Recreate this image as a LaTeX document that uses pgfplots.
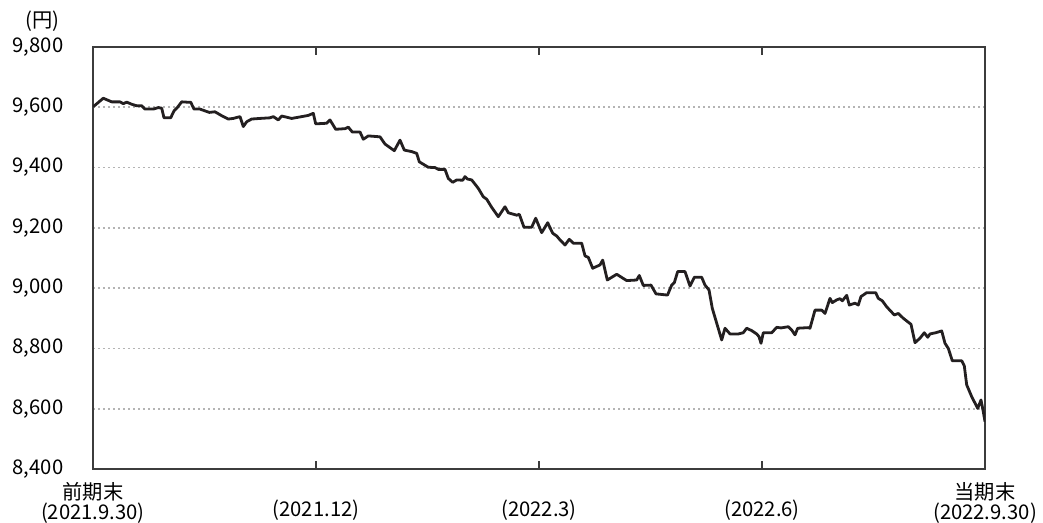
\documentclass[border=0pt]{standalone}
\usepackage{fontspec}
\setmainfont{Noto Sans CJK JP}
\usepackage{pgfplots}
\pgfplotsset{compat=1.18}
\definecolor{lineblk}{RGB}{35,31,32}
\definecolor{axgray}{RGB}{60,60,60}
\definecolor{gridgray}{RGB}{180,180,180}
\pgfplotstableread{
x y
93.3 9602
103.3 9630
111.7 9618
120 9618
123.3 9612
126.7 9617
131.7 9610
136.7 9605
141.7 9605
145 9594
153.3 9594
158.3 9599
161.7 9597
164 9565
170.7 9565
174 9588
177.3 9599
181.7 9618
186.7 9617
190.7 9617
194 9594
200 9594
205 9588
209.3 9583
215 9585
221.7 9572
228.3 9561
233.3 9563
240 9569
243.3 9536
246.7 9552
251.7 9561
260 9563
270 9565
273.3 9569
278.3 9558
281.7 9571
291.7 9563
301.7 9569
308.3 9573
313.3 9580
315.7 9545
326.7 9547
330 9558
335.7 9527
345 9529
348.3 9534
352.3 9518
360 9518
363.3 9494
368.3 9505
380 9502
385 9478
394.3 9456
400 9491
404.3 9458
411.7 9453
416.7 9447
419.3 9419
428.3 9401
435 9400
438.3 9394
445 9394
448.3 9364
452.7 9351
456.7 9359
462.7 9358
465 9370
467.3 9362
471.7 9359
478.3 9331
483.3 9303
486.7 9295
491.7 9268
498.3 9237
505 9270
508.3 9250
516.7 9242
519.3 9245
524 9202
531.7 9202
535.7 9232
541.7 9184
547.7 9217
552.7 9182
556.7 9173
560 9160
565 9143
569.3 9162
573.3 9149
581.7 9149
585 9107
588.3 9102
592.7 9066
600 9077
602.7 9093
607.3 9027
616.7 9046
626.7 9025
636.7 9027
639.3 9042
643.3 9009
651 9010
656 8981
667.5 8977
671.7 9010
674.3 9018
677.7 9055
685 9055
690 9007
694.3 9036
701.7 9036
705 9010
709 8994
712.3 8933
721.7 8828
725 8867
730 8848
738.3 8848
743.3 8852
746.7 8867
751.7 8859
756.7 8848
759 8839
761 8817
763.3 8852
771.7 8852
776.7 8870
781 8868
788.3 8872
791.7 8861
795 8845
797.7 8867
808.3 8869
810 8867
815 8927
821.7 8927
825 8916
830 8966
832.3 8952
836.7 8961
840 8965
842.3 8958
846.7 8976
849.3 8944
855 8950
858.3 8944
861 8972
866.7 8985
875.7 8985
878.3 8966
882.3 8958
886.7 8938
894.3 8911
898.3 8916
903.3 8900
911 8880
915 8819
920 8834
924.3 8852
927.7 8837
930 8848
935.7 8852
941.7 8858
945 8817
948.3 8800
952.3 8759
961.7 8759
964.3 8742
966.7 8679
971.7 8640
977.7 8601
981 8629
983.3 8590
985 8557
}\navdata
\begin{document}
\fontsize{15.2}{14.9}\selectfont
\lineskiplimit=-20pt
\begin{tikzpicture}
\begin{axis}[
  scale only axis, width=669pt, height=316.5pt,
  xmin=93, xmax=985, ymin=8400, ymax=9800,
  axis line style={draw=axgray, line width=0.9pt},
  xtick={93,316,539,762,985},
  xticklabels={{\strut 前期末\\(2021.9.30)},{\strut\\(2021.12)},{\strut\\(2022.3)},{\strut\\(2022.6)},{\strut 当期末\\(2022.9.30)}},
  xticklabel style={align=center, yshift=-5pt},
  ytick={8400,8600,...,9800},
  yticklabel style={xshift=-17pt},
  /pgf/number format/assume math mode=true,
  /pgf/number format/1000 sep={,},
  major tick length=6pt,
  tick align=inside,
  ytick style={draw=none},
  xtick style={draw=axgray, line width=0.9pt},
  ymajorgrids,
  grid style={gridgray, line width=1.3pt, dash pattern=on 1.3pt off 2.45pt},
]
\addplot[lineblk, line width=2.1pt, line join=round, mark=none] table[x=x,y=y] {\navdata};
\coordinate (bl) at (rel axis cs:0,0);
\coordinate (tr) at (rel axis cs:1,1);
\end{axis}
\node at ([xshift=-37.9pt,yshift=335.5pt]bl) {(円)};
\pgfresetboundingbox
\useasboundingbox ([xshift=-69.75pt,yshift=-40.5pt]bl) rectangle ([xshift=43.5pt,yshift=35.25pt]tr);
\end{tikzpicture}
\end{document}
